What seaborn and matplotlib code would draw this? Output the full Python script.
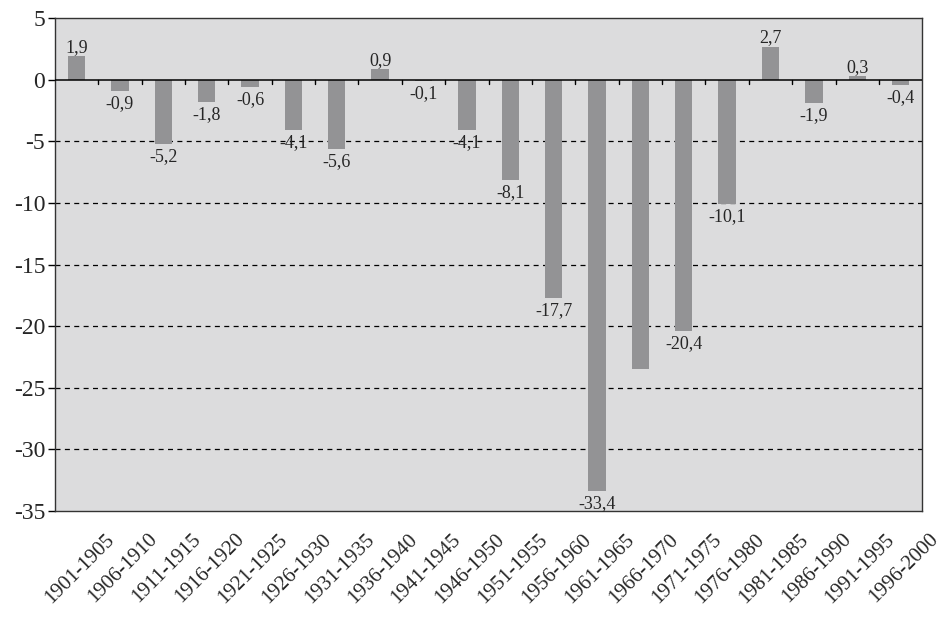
import numpy as np
import pandas as pd
import matplotlib
matplotlib.use("Agg")
import matplotlib.pyplot as plt
import matplotlib.transforms as mtransforms
import seaborn as sns

# five-year periods and values
periods = ["1901-1905", "1906-1910", "1911-1915", "1916-1920", "1921-1925",
           "1926-1930", "1931-1935", "1936-1940", "1941-1945", "1946-1950",
           "1951-1955", "1956-1960", "1961-1965", "1966-1970", "1971-1975",
           "1976-1980", "1981-1985", "1986-1990", "1991-1995", "1996-2000"]
values = [1.9, -0.9, -5.2, -1.8, -0.6, -4.1, -5.6, 0.9, -0.1, -4.1,
          -8.1, -17.7, -33.4, -23.5, -20.4, -10.1, 2.7, -1.9, 0.3, -0.4]
# the 1966-1970 bar carries no label in the original
show_label = [True] * 13 + [False] + [True] * 6
y_ticks = [5, 0, -5, -10, -15, -20, -25, -30, -35]

df = pd.DataFrame({"Period": periods, "Value": values})

sns.set_style("white")
plt.rcParams["font.family"] = ["Liberation Serif", "DejaVu Serif"]

fig = plt.figure(figsize=(9.46, 6.27), dpi=100)
ax = fig.add_axes([0.058, 0.185, 0.917, 0.786])
ax.set_facecolor("#dcdcdd")

sns.barplot(data=df, x="Period", y="Value", color="#939395", width=0.4,
            saturation=1, linewidth=0, ax=ax, zorder=3)

ax.set_ylim(-35, 5)
ax.set_xlim(-0.5, len(periods) - 0.5)
ax.set_yticks(y_ticks)
ax.set_yticklabels([str(t) for t in y_ticks], fontsize=17)
for t in y_ticks[2:-1]:
    ax.axhline(t, color="black", lw=0.9, ls=(0, (4, 3.5)), zorder=1)
ax.axhline(0, color="black", lw=1.1, zorder=4)

# small tick marks on the zero line between categories
for b in np.arange(0.5, len(periods) - 1, 1):
    ax.plot([b, b], [0, -0.35], color="black", lw=1, zorder=4)

for s in ax.spines.values():
    s.set_color("#333333")
    s.set_linewidth(1)

ax.tick_params(axis="y", length=5, width=1, color="black", pad=2, left=True)
ax.tick_params(axis="x", length=0, pad=0)
ax.set_xticks(range(len(periods)))
ax.set_xticklabels(periods, rotation=45, ha="right", rotation_mode="anchor",
                   fontsize=15)
offset = mtransforms.ScaledTranslation(0.28, -0.19, fig.dpi_scale_trans)
for lab in ax.get_xticklabels():
    lab.set_transform(lab.get_transform() + offset)

ax.set_xlabel("")
ax.set_ylabel("")

for i, (v, show) in enumerate(zip(values, show_label)):
    if not show:
        continue
    txt = f"{v:.1f}".replace(".", ",")
    if v >= 0:
        ax.annotate(txt, (i, v), xytext=(0, 0), textcoords="offset points",
                    ha="center", va="bottom", fontsize=13, zorder=5)
    else:
        ax.annotate(txt, (i, v), xytext=(0, -3), textcoords="offset points",
                    ha="center", va="top", fontsize=13, zorder=5)

fig.savefig("out.png", dpi=100)
